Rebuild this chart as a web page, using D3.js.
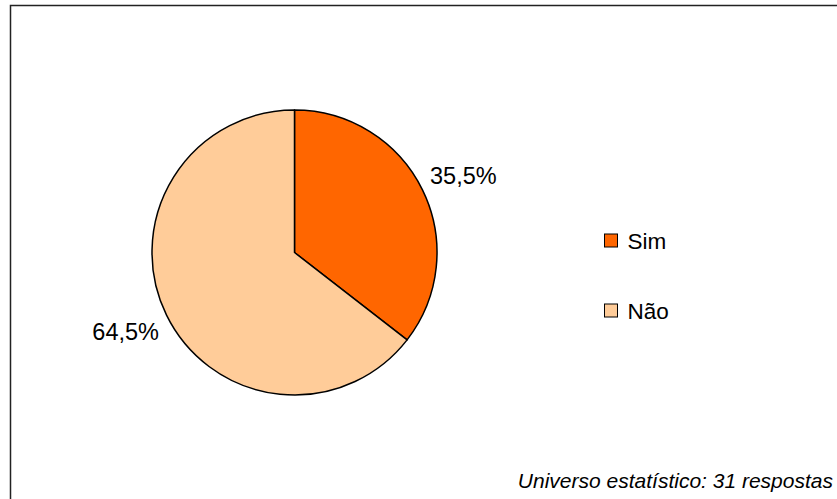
<!DOCTYPE html>
<html>
<head>
<meta charset="utf-8">
<script src="https://cdn.jsdelivr.net/npm/d3@7"></script>
<style>
    body { margin: 0; background: #fff; }
    text { font-family: Arial, 'Liberation Sans', sans-serif; }
</style>
</head>
<body>
<svg id="chart" width="837" height="499"></svg>
<script>
var categories = ['Sim', 'Não'];
var values = [35.5, 64.5];
var colors = ['#FF6600', '#FFCC99'];
var footnote = 'Universo estatístico: 31 respostas';

var svg = d3.select('#chart'),
    cx = 294.5,
    cy = 252.5,
    radius = 142.5;

// outer frame, only left and top edges are visible in the picture
svg.append('rect')
    .attr('x', 10.5)
    .attr('y', 5.5)
    .attr('width', 900)
    .attr('height', 600)
    .attr('fill', 'none')
    .attr('stroke', '#222')
    .attr('stroke-width', 1.5);

var data = categories.map(function(c, i) {
    return {name: c, value: values[i]};
});

var pie = d3.pie()
    .sort(null)
    .value(function(d) { return d.value; });

var arc = d3.arc()
    .innerRadius(0)
    .outerRadius(radius);

var labelArc = d3.arc()
    .innerRadius(188)
    .outerRadius(188);

var color = d3.scaleOrdinal()
    .domain(categories)
    .range(colors);

var g = svg.append('g')
    .attr('transform', 'translate(' + cx + ',' + cy + ')');

var arcs = pie(data);

g.selectAll('path')
    .data(arcs)
    .enter().append('path')
    .attr('d', arc)
    .attr('fill', function(d) { return color(d.data.name); })
    .attr('stroke', '#000')
    .attr('stroke-width', 1.5)
    .attr('stroke-linejoin', 'round');

var fmt = function(v) { return d3.format('.1f')(v).replace('.', ',') + '%'; };

g.selectAll('text.lbl')
    .data(arcs)
    .enter().append('text')
    .attr('class', 'lbl')
    .attr('x', function(d) { return labelArc.centroid(d)[0]; })
    .attr('y', function(d) { return labelArc.centroid(d)[1]; })
    .attr('dy', function(d, i) { return i === 0 ? '0.6em' : '0.2em'; })
    .attr('text-anchor', 'middle')
    .attr('font-size', 23.5)
    .attr('fill', '#000')
    .text(function(d) { return fmt(d.data.value); });

// legend
var ly = d3.scalePoint()
    .domain(categories)
    .range([240.5, 310.5]);

var legend = svg.append('g')
    .selectAll('g')
    .data(categories)
    .enter().append('g')
    .attr('transform', function(d) { return 'translate(604.5,' + ly(d) + ')'; });

legend.append('rect')
    .attr('x', 0)
    .attr('y', -6.5)
    .attr('width', 13)
    .attr('height', 13)
    .attr('fill', color)
    .attr('stroke', '#000')
    .attr('stroke-width', 1);

legend.append('text')
    .attr('x', 23)
    .attr('y', 0)
    .attr('dy', '0.36em')
    .attr('font-size', 22.5)
    .attr('fill', '#000')
    .text(function(d) { return d; });

svg.append('text')
    .attr('x', 833)
    .attr('y', 488)
    .attr('text-anchor', 'end')
    .attr('font-size', 21)
    .attr('font-style', 'italic')
    .attr('fill', '#000')
    .text(footnote);
</script>
</body>
</html>
